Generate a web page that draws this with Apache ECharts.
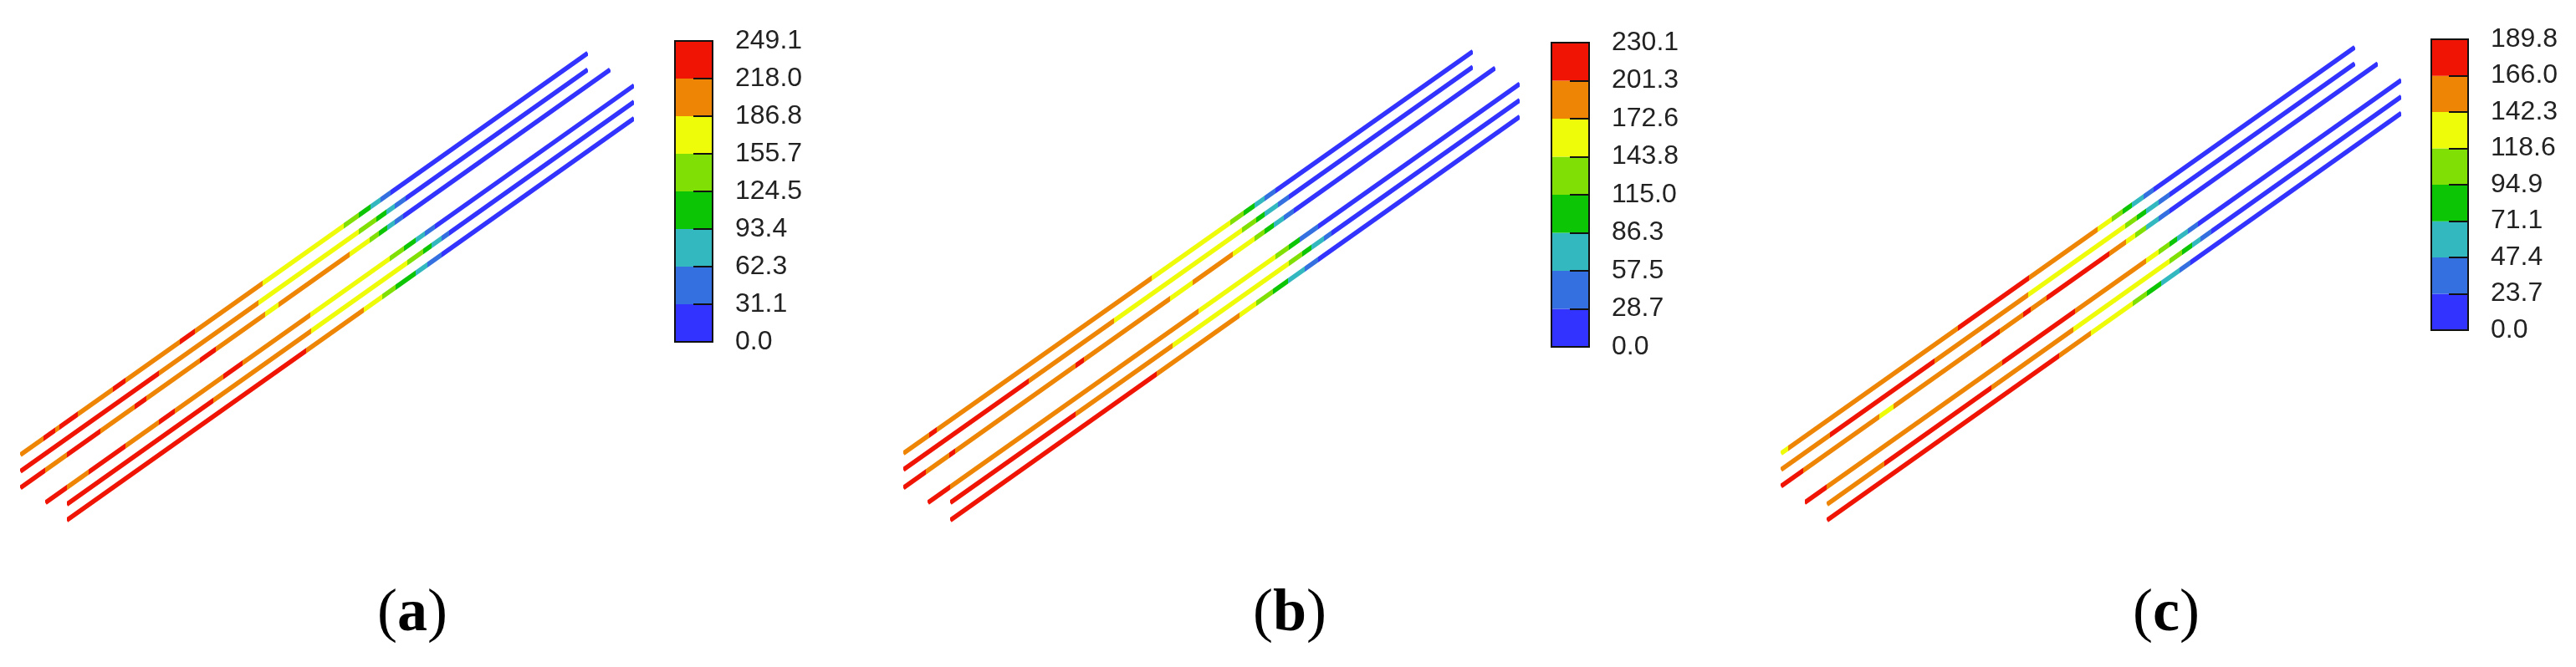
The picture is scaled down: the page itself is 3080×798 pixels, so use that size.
<!DOCTYPE html>
<html><head><meta charset="utf-8">
<style>html,body{margin:0;padding:0;background:#fff}#c{width:3080px;height:798px}</style>
<script src="https://cdn.jsdelivr.net/npm/echarts@6/dist/echarts.min.js"></script>
</head><body><div id="c"></div>
<script>
const bandColors = ['#3333ff','#3470e0','#33b8c0','#0cc505','#80e005','#eefc0a','#ee8505','#f01405'];
const [I,B,T,G,L,Y,O,R] = [0,1,2,3,4,5,6,7];
const panelNames = ['a','b','c'];
const ticksA = [0.0,31.1,62.3,93.4,124.5,155.7,186.8,218.0,249.1];
const ticksB = [0.0,28.7,57.5,86.3,115.0,143.8,172.6,201.3,230.1];
const ticksC = [0.0,23.7,47.4,71.1,94.9,118.6,142.3,166.0,189.8];

// Strip ends [x0,y0,x1,y1] in each panel's own data units
const endsA = [[38,1305,1102,85],[38,1355,1102,135],[38,1405,1144,135],[85,1450,1189,183],[125,1455,1189,233],[125,1503,1189,283]];
const endsB = [[47,1300,1115,80],[47,1350,1115,127],[47,1405,1157,130],[93,1450,1203,178],[135,1450,1203,228],[135,1503,1203,278]];
const endsC = [[47,1300,1145,67],[47,1350,1145,117],[47,1400,1189,117],[92,1450,1234,167],[135,1455,1234,217],[135,1503,1234,267]];

// Bands along each strip: level, upper x, level, upper x, ...
const stripsA = [
 [O,81,R,104,O,112,R,146,O,212,R,235,O,337,R,366,O,493,Y,645,L,672,G,695,T,714,B,732,I,1102],
 [R,298,O,485,Y,673,L,705,G,724,T,740,B,760,I,1102],
 [R,84,O,125,R,188,O,253,R,274,O,375,R,405,O,497,Y,522,O,655,Y,693,L,710,G,726,T,740,B,756,I,1144],
 [R,125,O,166,R,235,O,298,R,327,O,418,R,455,O,582,Y,730,L,758,G,779,T,797,B,815,I,1189],
 [R,400,O,583,Y,764,L,793,G,809,T,828,B,842,I,1189],
 [R,574,O,682,Y,717,L,741,G,779,T,801,B,828,I,1189]];
const stripsB = [
 [O,95,R,110,O,512,Y,660,L,685,G,705,T,725,B,745,I,1115],
 [R,282,O,442,Y,682,L,708,G,725,T,750,B,770,I,1115],
 [R,90,O,133,R,145,O,370,R,385,O,548,Y,590,O,665,Y,705,L,725,G,742,T,760,B,780,I,1157],
 [R,135,O,600,Y,745,L,770,G,790,B,825,I,1203],
 [R,370,O,552,Y,770,L,795,G,812,T,835,B,850,I,1203],
 [R,522,O,678,Y,708,L,740,G,768,T,800,B,825,I,1203]];
const stripsC = [
 [Y,60,O,385,R,522,O,652,Y,680,L,700,G,718,T,740,B,760,I,1145],
 [O,140,R,340,O,520,Y,705,L,728,G,745,T,770,B,790,I,1145],
 [R,90,O,235,Y,262,O,430,R,465,O,510,R,525,O,555,R,675,O,708,Y,725,L,745,T,770,B,790,I,1189],
 [R,135,O,470,R,610,O,745,Y,770,L,790,G,805,T,825,B,845,I,1234],
 [O,245,R,450,O,607,Y,790,L,815,G,833,T,850,B,870,I,1234],
 [R,580,O,640,Y,720,L,748,G,775,T,810,B,830,I,1234]];

const plotBox = [
 {left:0,top:30,width:1000,height:620},
 {left:1050,top:30,width:1000,height:620},
 {left:2100,top:30,width:980,height:620}];
const barBox = [
 {left:807,top:49,width:45,height:360},
 {left:1855,top:51,width:45,height:364},
 {left:2907,top:47,width:44,height:348}];
const captionX = [488,1537,2585];

const grid=[],xAxis=[],yAxis=[],series=[],visualMap=[],title=[];
const ends=[endsA,endsB,endsC], strips=[stripsA,stripsB,stripsC], ticks=[ticksA,ticksB,ticksC];
for(let p=0;p<3;p++){
  const gi=grid.length;
  grid.push(plotBox[p]);
  xAxis.push({type:'value',gridIndex:gi,min:0,max:1568,show:false});
  yAxis.push({type:'value',gridIndex:gi,min:0,max:1573,inverse:true,show:false});
  ends[p].forEach((e,s)=>{
    const si=series.length;
    series.push({type:'line',xAxisIndex:gi,yAxisIndex:gi,symbol:'none',silent:true,
      data:[[e[0],e[1]],[e[2],e[3]]],lineStyle:{width:5.5,cap:'butt'},z:2});
    const st=strips[p][s], pieces=[]; let lo=e[0];
    for(let k=0;k<st.length;k+=2){pieces.push({min:lo,max:st[k+1],color:bandColors[st[k]]});lo=st[k+1];}
    visualMap.push({type:'piecewise',show:false,dimension:0,seriesIndex:si,pieces});
  });
  // colour bar
  const ci=grid.length, t=ticks[p];
  grid.push({...barBox[p],show:true,backgroundColor:'transparent',borderColor:'#111',borderWidth:2,z:10});
  xAxis.push({type:'category',gridIndex:ci,data:['bar'],show:false});
  yAxis.push({type:'value',gridIndex:ci,min:0,max:t[8],position:'right',z:11,
    splitLine:{show:false},axisLine:{show:false},
    axisTick:{show:true,inside:true,length:23,lineStyle:{color:'#111',width:2},customValues:t.slice(1,8)},
    axisLabel:{show:true,customValues:t,margin:27,color:'#222',fontFamily:'Liberation Sans',fontSize:32,
      padding:[0,0,8,0],formatter:v=>v.toFixed(1)}});
  for(let b=0;b<8;b++){
    series.push({type:'bar',xAxisIndex:ci,yAxisIndex:ci,stack:'bar'+p,barWidth:'100%',silent:true,
      data:[t[b+1]-t[b]],itemStyle:{color:bandColors[b]},z:2});
  }
  title.push({text:'{n|(}{b|'+panelNames[p]+'}{n|)}',left:captionX[p],top:730,textAlign:'center',textVerticalAlign:'middle',
    textStyle:{fontWeight:'normal',rich:{n:{fontFamily:'Liberation Serif',fontSize:72,fontWeight:'normal',color:'#000'},
                     b:{fontFamily:'Liberation Serif',fontSize:72,fontWeight:'bold',color:'#000'}}}});
}
const chart=echarts.init(document.getElementById('c'),null,{renderer:'canvas'});
chart.setOption({animation:false,backgroundColor:'#fff',title,grid,xAxis,yAxis,visualMap,series});
</script></body></html>
